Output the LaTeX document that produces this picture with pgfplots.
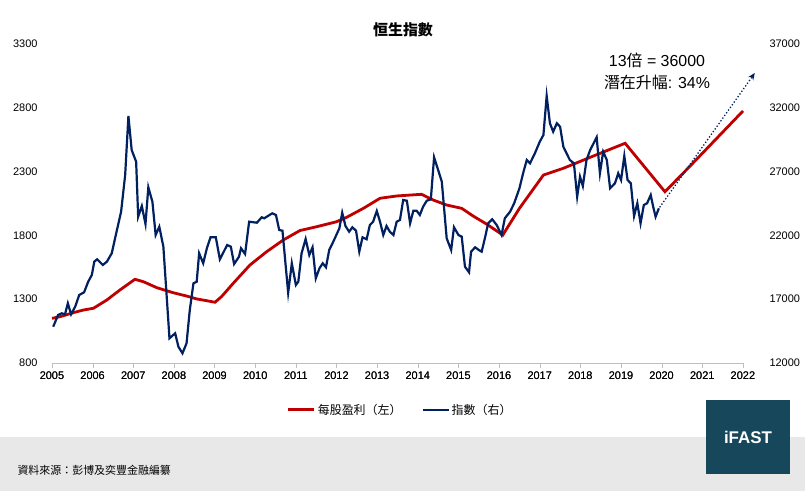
\documentclass[border=0pt]{standalone}
\usepackage{pgfplots}
\pgfplotsset{compat=1.18}
\usepackage{fontspec}
\setmainfont{Liberation Sans}
\newfontfamily\cjk{Noto Sans CJK TC}
\usetikzlibrary{arrows.meta}
\definecolor{eps}{HTML}{C00000}
\definecolor{hsi}{HTML}{002060}
\definecolor{foot}{HTML}{E8E8E8}
\definecolor{logo}{HTML}{17475A}
\begin{document}
\begin{tikzpicture}
\useasboundingbox (0bp,0bp) rectangle (805bp,491bp);
\fill[white] (0bp,0bp) rectangle (805bp,491bp);
\fill[foot] (0bp,0bp) rectangle (805bp,54bp);
\fill[logo] (706bp,17bp) rectangle (790bp,91bp);
\node[white,font=\bfseries\fontsize{17}{20}\selectfont] at (748bp,54bp) {iFAST};
\node[anchor=base west,font=\cjk\fontsize{11}{13}\selectfont] at (14bp,17bp) {資料來源：彭博及奕豐金融編纂};
\node[font=\cjk\bfseries\fontsize{15}{18}\selectfont] at (403bp,461bp) {恒生指數};
\node[font=\fontsize{16}{19}\selectfont] at (657bp,431bp) {13{\cjk 倍} = 36000};
\node[font=\fontsize{16}{19}\selectfont] at (657bp,409bp) {{\cjk 潛在升幅}: 34\%};
\pgfplotsset{common/.style={
  at={(52bp,128bp)}, anchor=south west, scale only axis, width=691bp, height=319bp,
  xmin=2005, xmax=2022, clip=false,
  /pgf/number format/assume math mode=true,
  tick label style={font=\fontsize{11}{13}\selectfont},
  xtick={2005,...,2022}, x tick label style={/pgf/number format/1000 sep={}},
  axis x line*=bottom, x axis line style={draw=gray!50,-},
  xtick style={draw=gray!50}, tick align=outside, major tick length=5bp,
  ytick style={draw=none}, y axis line style={draw=none},
  scaled y ticks=false,
}}
\begin{axis}[common, axis y line*=left, ymin=800, ymax=3300, ytick={800,1300,...,3300},
  y tick label style={/pgf/number format/1000 sep={}, xshift=-6bp}]
\addplot[eps, line width=2.8bp] coordinates {
(2005.00,1150)(2005.20,1163)(2005.52,1194)(2005.77,1215)(2006.02,1229)(2006.35,1294)
(2006.67,1372)(2007.04,1456)(2007.25,1437)(2007.58,1390)(2007.98,1351)(2008.31,1325)
(2008.56,1302)(2008.81,1288)(2009.01,1276)(2009.17,1320)(2009.46,1425)(2009.87,1568)
(2010.28,1672)(2010.69,1764)(2011.10,1838)(2011.51,1868)(2012.00,1907)(2012.25,1942)
(2012.66,2012)(2013.07,2091)(2013.48,2109)(2014.09,2122)(2014.38,2077)(2014.71,2038)
(2015.08,2012)(2015.36,1952)(2015.69,1889)(2016.09,1803)(2016.50,2012)(2017.09,2273)
(2017.58,2326)(2018.24,2412)(2019.10,2522)(2020.08,2142)(2020.70,2344)(2022.00,2775)};
\end{axis}
\begin{axis}[common, axis y line*=right, ymin=12000, ymax=37000, ytick={12000,17000,...,37000},
  y tick label style={/pgf/number format/1000 sep={}, xshift=18bp},
  legend style={at={(0.504,-0.147)}, anchor=center, draw=none, fill=none,
    font=\cjk\fontsize{12}{14}\selectfont, legend columns=2,
    /tikz/every even column/.append style={column sep=18bp}},
  legend image code/.code={\draw[#1] (0bp,0bp) -- (26bp,0bp);}]
\addlegendimage{eps, line width=2.8bp}
\addlegendentry{每股盈利（左）}
\addplot[hsi, line width=2.2bp] coordinates {
(2005.03,14845)(2005.15,15762)(2005.24,15895)(2005.32,15817)(2005.39,16679)(2005.47,15817)
(2005.57,16412)(2005.67,17329)(2005.79,17541)(2005.89,18372)(2005.98,18897)(2006.04,19939)
(2006.11,20127)(2006.25,19680)(2006.35,19939)(2006.47,20597)(2006.57,22031)(2006.70,23857)
(2006.80,26734)(2006.88,31357)(2006.96,28693)(2007.07,27776)(2007.12,23466)(2007.21,24304)
(2007.30,22893)(2007.37,25770)(2007.47,24641)(2007.55,22031)(2007.64,22682)(2007.74,21115)
(2007.89,13936)(2008.03,14328)(2008.11,13277)(2008.21,12760)(2008.31,13544)(2008.39,16154)
(2008.48,18246)(2008.56,18372)(2008.62,20597)(2008.72,19814)(2008.81,20989)(2008.90,21851)
(2009.03,21851)(2009.13,20127)(2009.31,21248)(2009.40,21115)(2009.48,19759)(2009.60,20331)
(2009.65,20989)(2009.75,20542)(2009.85,23074)(2010.04,22995)(2010.16,23419)(2010.22,23340)
(2010.42,23732)(2010.51,23599)(2010.59,22423)(2010.67,22369)(2010.81,17510)(2010.90,19814)
(2011.00,18113)(2011.06,18372)(2011.14,20597)(2011.24,21718)(2011.33,20464)(2011.41,21067)
(2011.49,18638)(2011.58,19422)(2011.66,19814)(2011.74,19500)(2011.82,20856)(2011.92,21506)
(2012.07,22557)(2012.14,23779)(2012.22,22737)(2012.31,22290)(2012.39,22635)(2012.48,22369)
(2012.56,20723)(2012.64,21851)(2012.74,21694)(2012.82,22815)(2012.90,23074)(2012.99,23912)
(2013.07,23074)(2013.15,22031)(2013.23,22737)(2013.31,22290)(2013.40,22031)(2013.48,23074)
(2013.56,23207)(2013.64,24774)(2013.73,24719)(2013.81,22948)(2013.89,23936)(2013.97,23936)
(2014.05,23599)(2014.13,24249)(2014.22,24719)(2014.32,24829)(2014.40,28121)(2014.50,27125)
(2014.59,26209)(2014.71,21773)(2014.82,20856)(2014.89,22635)(2015.00,22031)(2015.08,21898)
(2015.16,19547)(2015.26,19108)(2015.31,20723)(2015.41,21067)(2015.50,20856)(2015.57,20723)
(2015.65,21773)(2015.73,22948)(2015.83,23262)(2015.94,22815)(2016.06,22031)(2016.14,23340)
(2016.27,23857)(2016.37,24516)(2016.50,25691)(2016.59,26867)(2016.68,27909)(2016.76,27651)
(2016.88,28434)(2017.00,29343)(2017.09,29868)(2017.17,32925)(2017.25,30785)(2017.33,30127)
(2017.42,30785)(2017.50,30519)(2017.58,28951)(2017.74,27909)(2017.84,27651)(2017.92,25033)
(2017.99,26600)(2018.06,25871)(2018.15,27909)(2018.24,28693)(2018.40,29688)(2018.48,26867)
(2018.56,28560)(2018.65,27909)(2018.73,25691)(2018.85,26083)(2018.93,26867)(2019.00,26342)
(2019.08,28223)(2019.16,26342)(2019.24,26083)(2019.32,23520)(2019.40,24516)(2019.48,22948)
(2019.56,24382)(2019.64,24516)(2019.73,25166)(2019.79,24249)(2019.85,23466)(2019.93,24124)};
\addlegendentry{指數（右）}
\addplot[hsi, line width=1.3bp, dotted, -{Stealth[length=7bp,width=6bp]}, forget plot] coordinates {
(2019.95,24200)(2022.29,34727)};
\end{axis}
\end{tikzpicture}
\end{document}
